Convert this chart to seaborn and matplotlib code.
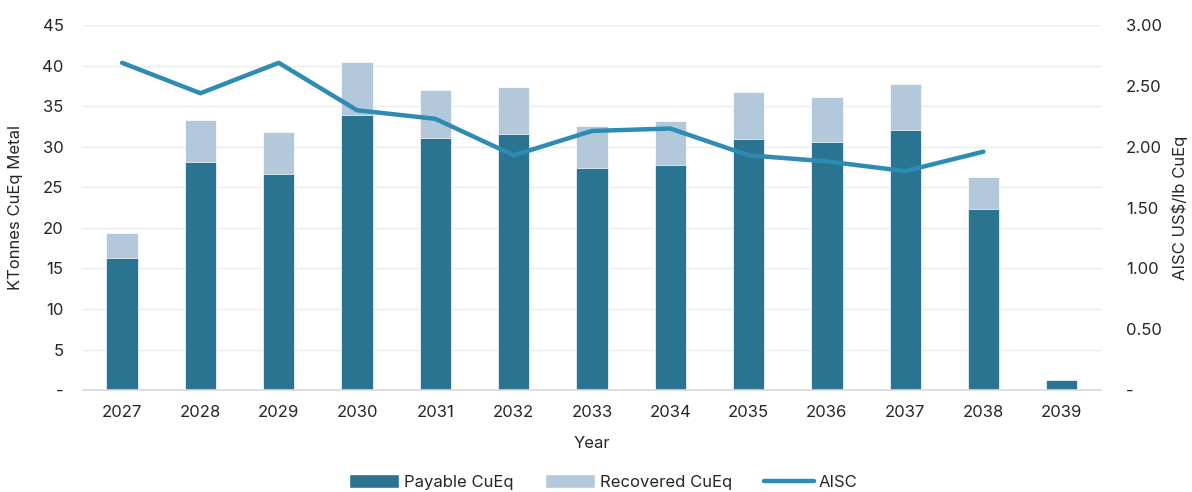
import numpy as np
import pandas as pd
import matplotlib
matplotlib.use('Agg')
import matplotlib.pyplot as plt
import seaborn as sns
from matplotlib.ticker import FuncFormatter
from matplotlib.patches import Patch
from matplotlib.lines import Line2D

years = ['2027', '2028', '2029', '2030', '2031', '2032', '2033',
         '2034', '2035', '2036', '2037', '2038', '2039']
payable = [16.3, 28.1, 26.6, 33.9, 31.1, 31.6, 27.4, 27.8, 30.9, 30.6, 32.1, 22.3, 1.2]
recovered = [19.4, 33.3, 31.8, 40.4, 37.0, 37.4, 32.6, 33.2, 36.7, 36.1, 37.8, 26.3, 1.2]
aisc_years = years[:12]
aisc = [2.69, 2.44, 2.69, 2.30, 2.23, 1.93, 2.13, 2.15, 1.93, 1.88, 1.80, 1.96]

c_pay = '#2A7491'
c_rec = '#B3C9DB'
c_line = '#2E8BB2'
txt = '#262626'

sns.set_theme(style='white')
plt.rcParams['font.family'] = ['Inter', 'DejaVu Sans']

df = pd.DataFrame({'Year': years, 'Payable': payable, 'Recovered': recovered})
df_line = pd.DataFrame({'x': np.arange(len(aisc_years)), 'AISC': aisc})

fig = plt.figure(figsize=(11.92, 4.92), dpi=100)
ax = fig.add_axes([0.0696, 0.207, 0.854, 0.742])

sns.barplot(data=df, x='Year', y='Recovered', order=years, color=c_rec,
            width=0.4, saturation=1, edgecolor='white', linewidth=0.5, ax=ax)
sns.barplot(data=df, x='Year', y='Payable', order=years, color=c_pay,
            width=0.4, saturation=1, edgecolor='white', linewidth=0.5, ax=ax)

ax.set_xlim(-0.5, len(years) - 0.5)
ax.set_ylim(0, 45)
ax.set_yticks(np.arange(0, 46, 5))
ax.yaxis.set_major_formatter(FuncFormatter(lambda v, p: '-' if v == 0 else f'{v:.0f}'))
ax.grid(axis='y', color='#EBEBEB', linewidth=1)
ax.set_axisbelow(True)
for s in ['top', 'right', 'left']:
    ax.spines[s].set_visible(False)
ax.spines['bottom'].set_color('#D9D9D9')
ax.spines['bottom'].set_linewidth(1.2)
ax.tick_params(axis='both', length=0, labelsize=12, colors=txt)
ax.tick_params(axis='x', pad=11)
ax.tick_params(axis='y', pad=14)
ax.set_xlabel('Year', fontsize=12, color=txt, labelpad=11)
ax.set_ylabel('KTonnes CuEq Metal', fontsize=12, color=txt, labelpad=14)

ax2 = ax.twinx()
sns.lineplot(data=df_line, x='x', y='AISC', color=c_line, linewidth=3.2,
             solid_capstyle='round', solid_joinstyle='round', ax=ax2)
ax2.set_ylim(0, 3)
ax2.set_yticks(np.arange(0, 3.01, 0.5))
ax2.yaxis.set_major_formatter(FuncFormatter(lambda v, p: '-' if v == 0 else f'{v:.2f}'))
for s in ['top', 'right', 'left', 'bottom']:
    ax2.spines[s].set_visible(False)
ax2.tick_params(axis='y', length=0, labelsize=12, colors=txt, pad=18)
ax2.set_ylabel('AISC US$/lb CuEq', fontsize=12, color=txt, labelpad=7)
ax2.set_xlim(-0.5, len(years) - 0.5)

handles = [Patch(facecolor=c_pay, label='Payable CuEq'),
           Patch(facecolor=c_rec, label='Recovered CuEq'),
           Line2D([0], [0], color=c_line, linewidth=3.2, solid_capstyle='round', label='AISC')]
fig.legend(handles=handles, loc='center', bbox_to_anchor=(0.506, 0.02), ncol=3,
           frameon=False, fontsize=12, handlelength=3.0, handleheight=0.9,
           columnspacing=1.9, handletextpad=0.3, labelcolor=txt)

fig.savefig('out.png', dpi=100)
